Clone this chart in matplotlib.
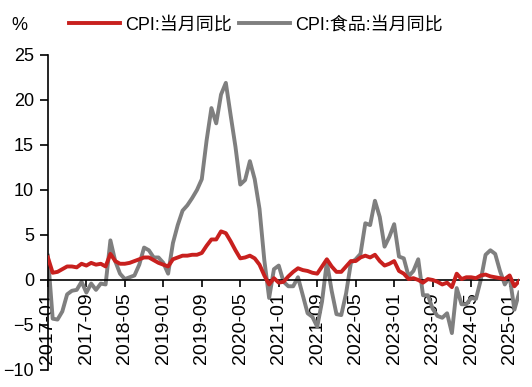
import numpy as np
import pandas as pd
import matplotlib
matplotlib.use("Agg")
import matplotlib.pyplot as plt

plt.rcParams['font.family'] = ['Liberation Sans', 'Noto Sans CJK SC', 'DejaVu Sans']

# 月度数据 2017-01 ~ 2025-03
months = pd.date_range('2017-01', periods=99, freq='MS').strftime('%Y-%m').tolist()

cpi = [2.5, 0.8, 0.9, 1.2, 1.5, 1.5, 1.4, 1.8, 1.6, 1.9, 1.7, 1.8,
       1.5, 2.9, 2.1, 1.8, 1.8, 1.9, 2.1, 2.3, 2.5, 2.5, 2.2, 1.9,
       1.7, 1.5, 2.3, 2.5, 2.7, 2.7, 2.8, 2.8, 3.0, 3.8, 4.5, 4.5,
       5.4, 5.2, 4.3, 3.3, 2.4, 2.5, 2.7, 2.4, 1.7, 0.5, -0.5, 0.2,
       -0.3, -0.2, 0.4, 0.9, 1.3, 1.1, 1.0, 0.8, 0.7, 1.5, 2.3, 1.5,
       0.9, 0.9, 1.5, 2.1, 2.1, 2.5, 2.7, 2.5, 2.8, 2.1, 1.6, 1.8,
       2.1, 1.0, 0.7, 0.1, 0.2, 0.0, -0.3, 0.1, 0.0, -0.2, -0.5, -0.3,
       -0.8, 0.7, 0.1, 0.3, 0.3, 0.2, 0.5, 0.6, 0.4, 0.3, 0.2, 0.1,
       0.5, -0.7, -0.1]

food = [2.7, -4.3, -4.4, -3.5, -1.6, -1.2, -1.1, -0.2, -1.4, -0.4, -1.1, -0.4,
        -0.5, 4.4, 2.1, 0.7, 0.1, 0.3, 0.5, 1.7, 3.6, 3.3, 2.5, 2.5,
        1.9, 0.7, 4.1, 6.1, 7.7, 8.3, 9.1, 10.0, 11.2, 15.5, 19.1, 17.4,
        20.6, 21.9, 18.3, 14.8, 10.6, 11.1, 13.2, 11.2, 7.9, 2.2, -2.0, 1.2,
        1.6, -0.2, -0.7, -0.7, 0.3, -1.7, -3.7, -4.1, -5.2, -2.4, 2.0, -1.2,
        -3.8, -3.9, -1.5, 1.9, 2.3, 2.9, 6.3, 6.1, 8.8, 7.0, 3.7, 4.8,
        6.2, 2.6, 2.4, 0.4, 1.0, 2.3, -1.7, -1.7, -3.2, -4.0, -4.2, -3.7,
        -5.9, -0.9, -2.7, -2.7, -2.0, -2.1, 0.0, 2.8, 3.3, 2.9, 1.0, -0.5,
        0.4, -3.3, -1.4]

x = np.arange(len(months))

fig = plt.figure(figsize=(5.32, 3.87), dpi=100)
ax = fig.add_axes([0.090, 0.044, 0.886, 0.814])

ax.plot(x, cpi, color='#C8201E', lw=2.8, label='CPI:当月同比', zorder=3)
ax.plot(x, food, color='#7F7F7F', lw=2.8, label='CPI:食品:当月同比', zorder=2)

ax.set_xlim(0, len(months) - 1)
ax.set_ylim(-10, 25)
ax.set_yticks(range(-10, 26, 5))

tick_pos = x[::8]
ax.set_xticks(tick_pos)
ax.set_xticklabels([months[i] for i in tick_pos])

ax.spines['top'].set_visible(False)
ax.spines['right'].set_visible(False)
ax.spines['bottom'].set_position(('data', 0))
for s in ('left', 'bottom'):
    ax.spines[s].set_linewidth(1.2)
ax.tick_params(axis='y', labelsize=13, width=1.2, length=6, direction='out', pad=4)
ax.tick_params(axis='x', labelsize=14, width=1.2, length=5, direction='out', pad=4,
               labelrotation=90)

fig.text(0.022, 0.935, '%', fontsize=13, va='center', ha='left')
fig.legend(loc='center left', bbox_to_anchor=(0.13, 0.935), ncol=2, frameon=False,
           fontsize=13, handlelength=2.8, handletextpad=0.3, columnspacing=0.4,
           borderaxespad=0, borderpad=0)

fig.savefig('out.png', dpi=100)
